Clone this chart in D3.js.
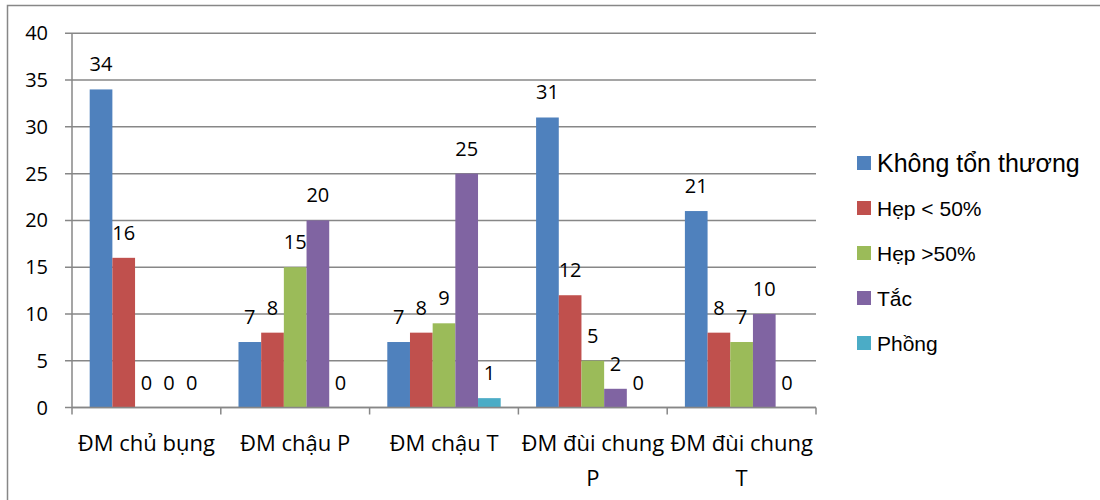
<!DOCTYPE html>
<html>
<head>
<meta charset="utf-8">
<script src="https://cdn.jsdelivr.net/npm/d3@7"></script>
<style>
  html, body { margin: 0; padding: 0; background: #fff; }
  svg { display: block; }
</style>
</head>
<body>
<svg id="chart" width="1100" height="500"></svg>
<script>
// Categories (arteries) and lesion types
const categories = ["ĐM chủ bụng", "ĐM chậu P", "ĐM chậu T", "ĐM đùi chung P", "ĐM đùi chung T"];
const seriesNames = ["Không tổn thương", "Hẹp < 50%", "Hẹp >50%", "Tắc", "Phồng"];
const seriesColors = ["#4F81BD", "#C0504D", "#9BBB59", "#8064A2", "#4BACC6"];

// Counts per series, in category order
const khongTonThuong = [34, 7, 7, 31, 21];
const hepDuoi50 = [16, 8, 8, 12, 8];
const hepTren50 = [0, 15, 9, 5, 7];
const tac = [0, 20, 25, 2, 10];
const phong = [0, 0, 1, 0, 0];

const yTicks = [0, 5, 10, 15, 20, 25, 30, 35, 40];

const seriesValues = [khongTonThuong, hepDuoi50, hepTren50, tac, phong];

const svg = d3.select("#chart");
const gridColor = "#878787";
const textFont = "'Open Sans', sans-serif";

// Outer chart border
svg.append("rect")
  .attr("x", 7.5).attr("y", 5.5)
  .attr("width", 1200).attr("height", 600)
  .attr("fill", "none").attr("stroke", gridColor).attr("stroke-width", 1.5);

const plotLeft = 72, plotRight = 816, plotTop = 33.3, plotBottom = 407.5;

const x = d3.scaleBand().domain(categories).range([plotLeft, plotRight]).padding(0);
const xs = d3.scaleBand().domain(d3.range(seriesNames.length))
  .range([0, x.bandwidth()]).paddingInner(0).paddingOuter(0.78);
const y = d3.scaleLinear().domain([0, 40]).range([plotBottom, plotTop]);

// Horizontal gridlines with left tick marks
svg.append("g").selectAll("line").data(yTicks).join("line")
  .attr("x1", plotLeft - 7).attr("x2", plotRight)
  .attr("y1", d => y(d)).attr("y2", d => y(d))
  .attr("stroke", gridColor).attr("stroke-width", 1.5);

// Y tick labels
svg.append("g").selectAll("text").data(yTicks).join("text")
  .attr("x", 48).attr("y", d => y(d))
  .attr("dy", "0.35em")
  .attr("text-anchor", "end")
  .attr("font-family", textFont).attr("font-size", 20)
  .attr("fill", "#000")
  .text(d => d);

// Bars
const rows = [];
seriesValues.forEach((vals, s) => vals.forEach((v, c) => rows.push({ s, c, v })));

svg.append("g").selectAll("rect").data(rows).join("rect")
  .attr("x", d => x(categories[d.c]) + xs(d.s))
  .attr("y", d => y(d.v))
  .attr("width", xs.bandwidth())
  .attr("height", d => y(0) - y(d.v))
  .attr("fill", d => seriesColors[d.s]);

// Value labels above bars
svg.append("g").selectAll("text").data(rows).join("text")
  .attr("x", d => x(categories[d.c]) + xs(d.s) + xs.bandwidth() / 2)
  .attr("y", d => y(d.v) - 18)
  .attr("text-anchor", "middle")
  .attr("font-family", textFont).attr("font-size", 20)
  .attr("fill", "#000")
  .text(d => d.v);

// Axes lines
svg.append("line")
  .attr("x1", plotLeft).attr("x2", plotLeft)
  .attr("y1", plotTop).attr("y2", plotBottom)
  .attr("stroke", gridColor).attr("stroke-width", 1.5);
svg.append("line")
  .attr("x1", plotLeft).attr("x2", plotRight)
  .attr("y1", plotBottom).attr("y2", plotBottom)
  .attr("stroke", gridColor).attr("stroke-width", 1.5);

// Category boundary ticks
const boundaries = categories.map(c => x(c)).concat([plotRight]);
svg.append("g").selectAll("line").data(boundaries).join("line")
  .attr("x1", d => d).attr("x2", d => d)
  .attr("y1", plotBottom).attr("y2", plotBottom + 7)
  .attr("stroke", gridColor).attr("stroke-width", 1.5);

// Category labels, wrapped to the band width
const catLabels = svg.append("g").selectAll("text").data(categories).join("text")
  .attr("x", d => x(d) + x.bandwidth() / 2)
  .attr("y", 451)
  .attr("text-anchor", "middle")
  .attr("font-family", textFont).attr("font-size", 22)
  .attr("fill", "#000");

catLabels.each(function (d) {
  const el = d3.select(this);
  const cx = x(d) + x.bandwidth() / 2;
  const words = d.split(" ");
  let lines = [];
  let current = [];
  const probe = el.append("tspan");
  words.forEach(w => {
    const test = current.concat([w]).join(" ");
    probe.text(test);
    if (probe.node().getComputedTextLength() > x.bandwidth() + 2 && current.length) {
      lines.push(current.join(" "));
      current = [w];
    } else {
      current.push(w);
    }
  });
  lines.push(current.join(" "));
  probe.remove();
  lines.forEach((ln, i) => {
    el.append("tspan").attr("x", cx).attr("dy", i === 0 ? 0 : 35).text(ln);
  });
});

// Legend
const legendY = [163, 208, 253, 298, 343];
const legend = svg.append("g").selectAll("g").data(seriesNames).join("g")
  .attr("transform", (d, i) => `translate(857, ${legendY[i]})`);
legend.append("rect")
  .attr("x", 0).attr("y", -7).attr("width", 14).attr("height", 14)
  .attr("fill", (d, i) => seriesColors[i]);
legend.append("text")
  .attr("x", 20).attr("y", 0).attr("dy", "0.36em")
  .attr("font-family", "'Liberation Sans', Arial, sans-serif")
  .attr("font-size", (d, i) => i === 0 ? 25 : 21)
  .attr("fill", "#000")
  .text(d => d);
</script>
</body>
</html>
